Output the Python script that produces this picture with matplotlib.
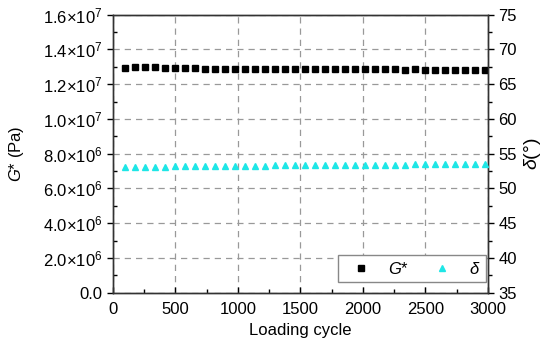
import matplotlib
matplotlib.use('Agg')
import matplotlib.pyplot as plt
import numpy as np
from matplotlib.ticker import FuncFormatter, MultipleLocator

plt.rcParams['font.family'] = ['Liberation Sans', 'DejaVu Sans']
plt.rcParams['mathtext.fontset'] = 'custom'
plt.rcParams['mathtext.rm'] = 'Liberation Sans'
plt.rcParams['mathtext.it'] = 'Liberation Sans:italic'

# data
cycles = [100 + 80 * i for i in range(37)]
g_star = [12.93, 13.01, 12.98, 12.97, 12.90, 12.90, 12.90, 12.90, 12.89, 12.89,
          12.89, 12.89, 12.89, 12.89, 12.89, 12.88, 12.88, 12.89, 12.89, 12.88,
          12.88, 12.88, 12.87, 12.86, 12.86, 12.86, 12.85, 12.85, 12.84, 12.85,
          12.84, 12.83, 12.83, 12.82, 12.81, 12.80, 12.80]  # x 1e6 Pa
delta = [53.10, 53.10, 53.10, 53.15, 53.15, 53.20, 53.20, 53.20, 53.20, 53.20,
         53.25, 53.25, 53.25, 53.25, 53.25, 53.30, 53.30, 53.30, 53.30, 53.30,
         53.30, 53.35, 53.35, 53.35, 53.35, 53.40, 53.40, 53.40, 53.40, 53.45,
         53.45, 53.45, 53.50, 53.50, 53.50, 53.55, 53.55]

fig = plt.figure(figsize=(5.5, 3.48), dpi=100)
ax = fig.add_axes([0.205, 0.159, 0.682, 0.799])
ax2 = ax.twinx()

g_pa = np.array(g_star) * 1e6
h1, = ax.plot(cycles, g_pa, 's', color='black', markersize=4.5, linestyle='none',
              label='$G$*', zorder=3)
h2, = ax2.plot(cycles, delta, '^', color='#1EE6E6', markersize=5, linestyle='none',
               label=r'$\delta$', zorder=3)

ax.set_xlim(0, 3000)
ax.set_ylim(0, 1.6e7)
ax2.set_ylim(35, 75)

ax.xaxis.set_major_locator(MultipleLocator(500))
ax.xaxis.set_minor_locator(MultipleLocator(250))
ax.yaxis.set_major_locator(MultipleLocator(2e6))
ax.yaxis.set_minor_locator(MultipleLocator(1e6))
ax2.yaxis.set_major_locator(MultipleLocator(5))
ax2.yaxis.set_minor_locator(MultipleLocator(2.5))


def sci(v, pos):
    if v == 0:
        return '0.0'
    e = int(np.floor(np.log10(abs(v))))
    m = v / 10 ** e
    return '%.1f×10$^{%d}$' % (m, e)


ax.yaxis.set_major_formatter(FuncFormatter(sci))

ax.grid(True, which='major', linestyle=(0, (5, 4)), color='#999999', linewidth=0.9)
ax.set_axisbelow(True)

ax.tick_params(axis='both', which='both', labelsize=12, width=1)
ax.tick_params(axis='x', which='both', direction='in', pad=7)
ax.tick_params(axis='y', which='major', direction='out', length=4)
ax.tick_params(axis='y', which='minor', direction='in', length=3)
ax.tick_params(axis='x', which='major', length=4)
ax.tick_params(axis='x', which='minor', length=3)
ax2.tick_params(axis='y', which='both', direction='out', labelsize=12, width=1)
ax2.tick_params(axis='y', which='major', length=4)
ax2.tick_params(axis='y', which='minor', length=3)

for sp in list(ax.spines.values()) + list(ax2.spines.values()):
    sp.set_linewidth(1.0)
    sp.set_color('#333333')

ax.set_xlabel('Loading cycle', fontsize=12, labelpad=4)
ax.set_ylabel('$G$* (Pa)', fontsize=12, labelpad=12)
ax2.set_ylabel(r'$\delta$(°)', fontsize=14, labelpad=4)

ax2.legend(handles=[h1, h2], loc='lower right', ncol=2, fontsize=12,
           frameon=True, fancybox=False, edgecolor='#888888', framealpha=1,
           borderaxespad=0, handletextpad=0.6, columnspacing=1.0,
           borderpad=0.35, bbox_to_anchor=(0.995, 0.037))

fig.savefig('out.png', dpi=100)
